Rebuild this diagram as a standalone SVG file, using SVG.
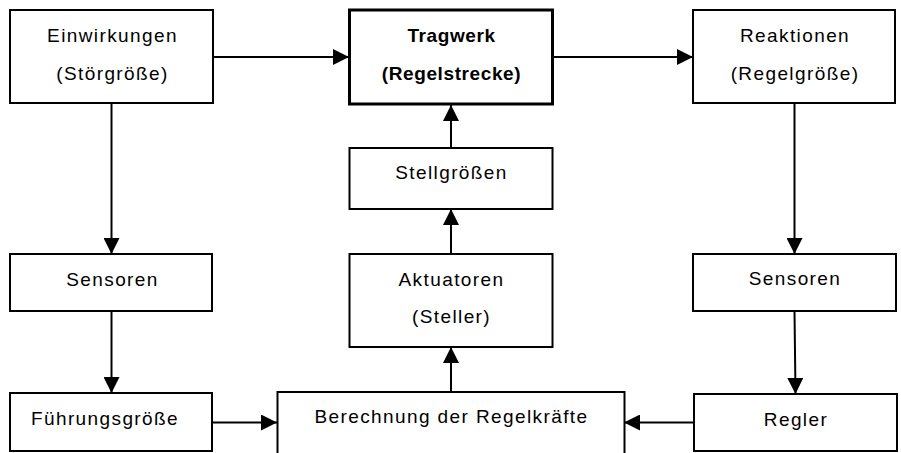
<svg xmlns="http://www.w3.org/2000/svg" width="901" height="453" viewBox="0 0 901 453">
  <style>
    .box { fill: #fff; stroke: #000; stroke-width: 2; }
    .main { fill: #fff; stroke: #000; stroke-width: 3; }
    .lbl { font-family: "Liberation Sans", Arial, sans-serif; font-size: 19px; letter-spacing: 1.4px; text-anchor: middle; fill: #000; }
    .bold { font-weight: bold; letter-spacing: 0.6px; }
    .conn { fill: none; stroke: #000; stroke-width: 2; marker-end: url(#arrow); }
  </style>
  <defs>
    <marker id="arrow" markerUnits="userSpaceOnUse" markerWidth="16" markerHeight="16" refX="16" refY="8" orient="auto">
      <path d="M0,0 L16,8 L0,16 Z" fill="#000"/>
    </marker>
  </defs>
  <rect width="901" height="453" fill="#fff"/>

  <g id="connectors">
    <line class="conn" x1="213" y1="57" x2="349" y2="57"/>
    <line class="conn" x1="553" y1="57" x2="693" y2="57"/>
    <line class="conn" x1="111.5" y1="103" x2="111.5" y2="254"/>
    <line class="conn" x1="111.5" y1="311" x2="111.5" y2="393"/>
    <line class="conn" x1="212" y1="422.5" x2="277" y2="422.5"/>
    <line class="conn" x1="694" y1="422.5" x2="624" y2="422.5"/>
    <line class="conn" x1="794.5" y1="103" x2="794.5" y2="254"/>
    <line class="conn" x1="794.5" y1="311" x2="795.5" y2="394"/>
    <line class="conn" x1="451" y1="392" x2="451" y2="347"/>
    <line class="conn" x1="451" y1="254" x2="451" y2="209"/>
    <line class="conn" x1="451" y1="148" x2="451" y2="105"/>
  </g>

  <g id="einwirkungen">
    <rect class="box" x="10" y="10" width="203" height="93"/>
    <text class="lbl" x="112.5" y="42">Einwirkungen</text>
    <text class="lbl" x="112.5" y="80">(Störgröße)</text>
  </g>

  <g id="tragwerk">
    <rect class="main" x="349.5" y="10" width="203" height="94"/>
    <text class="lbl bold" x="451.5" y="42">Tragwerk</text>
    <text class="lbl bold" x="451.5" y="80">(Regelstrecke)</text>
  </g>

  <g id="reaktionen">
    <rect class="box" x="693" y="10" width="202" height="93"/>
    <text class="lbl" x="795" y="42">Reaktionen</text>
    <text class="lbl" x="795" y="80">(Regelgröße)</text>
  </g>

  <g id="sensoren-links">
    <rect class="box" x="10" y="254" width="202" height="57"/>
    <text class="lbl" x="112.5" y="286">Sensoren</text>
  </g>

  <g id="fuehrungsgroesse">
    <rect class="box" x="10" y="393" width="202" height="58"/>
    <text class="lbl" x="105" y="425">Führungsgröße</text>
  </g>

  <g id="stellgroessen">
    <rect class="box" x="349.5" y="148" width="203" height="61"/>
    <text class="lbl" x="451.5" y="179">Stellgrößen</text>
  </g>

  <g id="aktuatoren">
    <rect class="box" x="349.5" y="254" width="203" height="93"/>
    <text class="lbl" x="451.5" y="286">Aktuatoren</text>
    <text class="lbl" x="451.5" y="323">(Steller)</text>
  </g>

  <g id="berechnung">
    <rect class="box" x="277.5" y="392" width="347" height="70"/>
    <text class="lbl" x="451.5" y="423">Berechnung der Regelkräfte</text>
  </g>

  <g id="sensoren-rechts">
    <rect class="box" x="693" y="254" width="203" height="57"/>
    <text class="lbl" x="795" y="285">Sensoren</text>
  </g>

  <g id="regler">
    <rect class="box" x="694" y="394" width="203" height="57"/>
    <text class="lbl" x="796" y="426">Regler</text>
  </g>
</svg>
